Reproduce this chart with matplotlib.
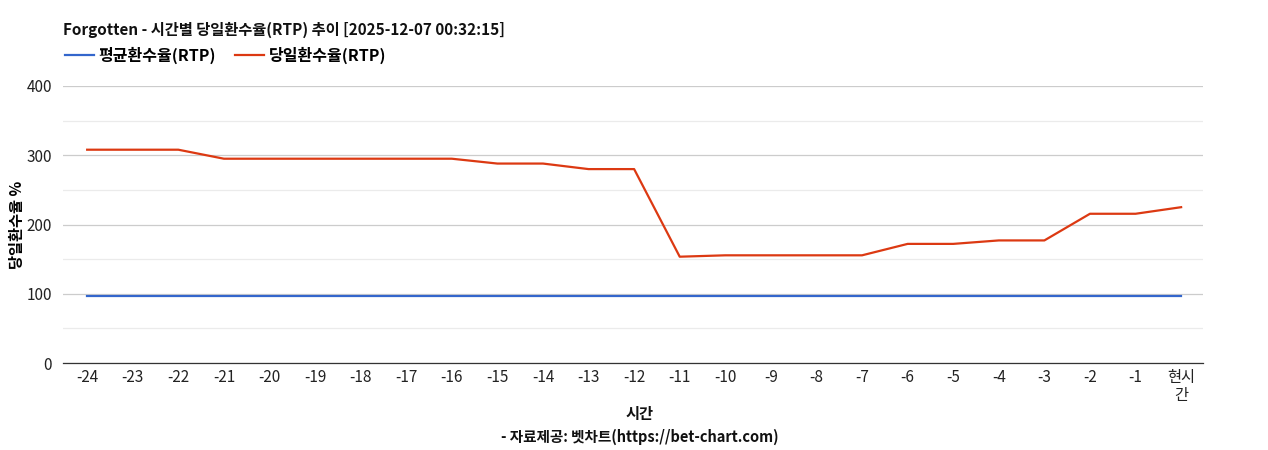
import matplotlib
matplotlib.use("Agg")
import matplotlib.pyplot as plt
from matplotlib.ticker import MultipleLocator

plt.rcParams['font.family'] = ['Noto Sans CJK KR', 'DejaVu Sans']

# hours before now
hours = [-24, -23, -22, -21, -20, -19, -18, -17, -16, -15, -14, -13, -12,
         -11, -10, -9, -8, -7, -6, -5, -4, -3, -2, -1, 0]
tick_labels = [str(h) for h in hours[:-1]] + ['현시\n간']

avg_rtp = [97] * 25
day_rtp = [308, 308, 308, 295, 295, 295, 295, 295, 295, 288, 288, 280, 280,
           153.5, 155.5, 155.5, 155.5, 155.5, 172, 172, 177, 177, 215.5, 215.5, 225]

W, H = 1268, 450
fig = plt.figure(figsize=(W / 100, H / 100), dpi=100)
ax = fig.add_axes([63 / W, 1 - 363 / H, (1203 - 63) / W, (363 - 86) / H])

ax.plot(hours, avg_rtp, color='#3366CC', lw=1.6, label='평균환수율(RTP)')
ax.plot(hours, day_rtp, color='#DC3912', lw=1.6, label='당일환수율(RTP)')

ax.set_xlim(-24.53, 0.48)
ax.set_ylim(0, 400)
ax.set_xticks(hours)
ax.set_xticklabels(tick_labels, fontsize=11, linespacing=1.1)
ax.yaxis.set_major_locator(MultipleLocator(100))
ax.yaxis.set_minor_locator(MultipleLocator(50))
ax.tick_params(axis='both', which='both', length=0, labelsize=11, colors='#222222')
ax.tick_params(axis='x', pad=4)
ax.tick_params(axis='y', pad=8)
ax.grid(axis='y', which='major', color='#cccccc', lw=0.9)
ax.grid(axis='y', which='minor', color='#ebebeb', lw=0.9)
ax.set_axisbelow(True)
for s in ['top', 'right', 'left']:
    ax.spines[s].set_visible(False)
ax.spines['bottom'].set_color('#333333')
ax.spines['bottom'].set_linewidth(0.9)

ax.set_ylabel('당일환수율 %', fontsize=11, fontweight='bold')
ax.yaxis.set_label_coords(-38 / (1203 - 63), 0.5)

fig.text(63 / W, 1 - 30 / H, 'Forgotten - 시간별 당일환수율(RTP) 추이 [2025-12-07 00:32:15]',
         fontsize=11, fontweight='bold', va='center', ha='left', color='#111111')
fig.legend(loc='center left', bbox_to_anchor=(57 / W, 1 - 55 / H), ncol=2,
           frameon=False, prop={'size': 11.5, 'weight': 'bold'},
           handlelength=1.8, handletextpad=0.3, columnspacing=1.2, borderpad=0)

fig.text(640 / W, 1 - 414 / H, '시간', fontsize=11, fontweight='bold',
         ha='center', va='center', color='#111111')
fig.text(640 / W, 1 - 437 / H, '- 자료제공: 벳차트(https://bet-chart.com)', fontsize=10.5,
         fontweight='bold', ha='center', va='center', color='#111111')

fig.savefig('out.png', dpi=100, facecolor='white')
